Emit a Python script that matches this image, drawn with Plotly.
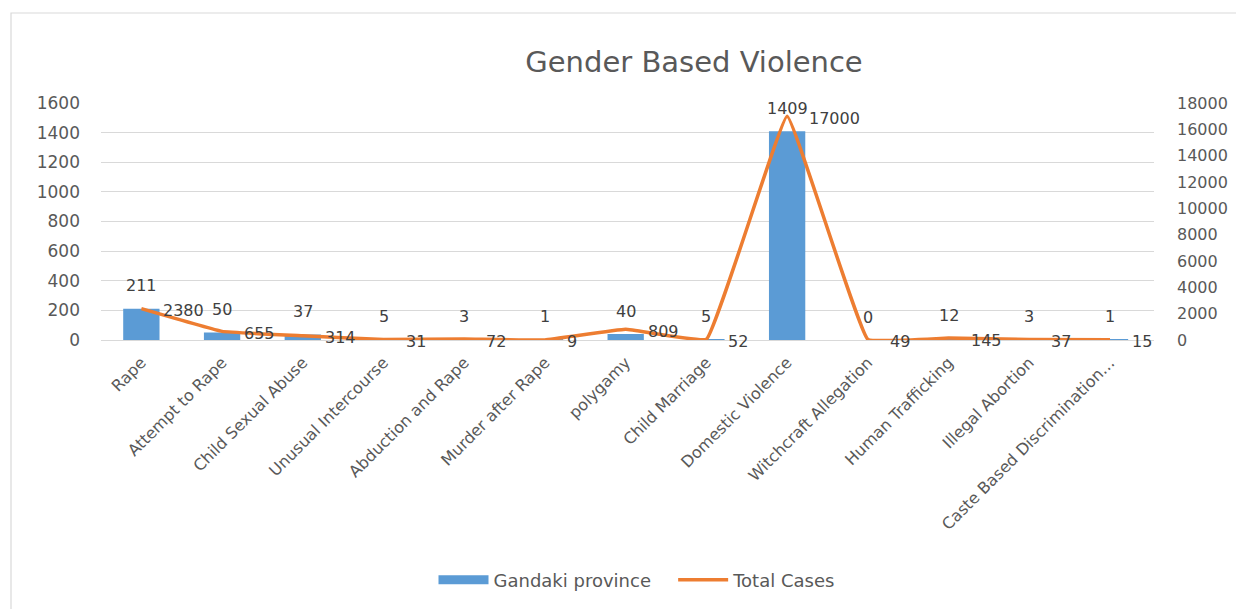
import plotly.graph_objects as go

categories = ["Rape", "Attempt to Rape", "Child Sexual Abuse", "Unusual Intercourse",
              "Abduction and Rape", "Murder after Rape", "polygamy", "Child Marriage",
              "Domestic Violence", "Witchcraft Allegation", "Human Trafficking",
              "Illegal Abortion", "Caste Based Discrimination…"]
gandaki = [211, 50, 37, 5, 3, 1, 40, 5, 1409, 0, 12, 3, 1]
total_cases = [2380, 655, 314, 31, 72, 9, 809, 52, 17000, 49, 145, 37, 15]
left_ticks = [0, 200, 400, 600, 800, 1000, 1200, 1400, 1600]
right_ticks = [0, 2000, 4000, 6000, 8000, 10000, 12000, 14000, 16000, 18000]

FONT = "DejaVu Sans"
GREY = "#595959"
LABEL = "#404040"
BLUE = "#5B9BD5"
ORANGE = "#ED7D31"

OFF = 8  # page body margin
W, H = 1244 - OFF, 609 - OFF
PL, PR, PT, PB = 101 - OFF, 1154 - OFF, 103 - OFF, 340 - OFF
L, R, T, B = PL, W - PR, PT, H - PB
pw = PR - PL
ph = PB - PT


def px_x(x):
    return (x - OFF - PL) / pw


def px_y(y):
    return (PB - (y - OFF)) / ph


fig = go.Figure()
fig.add_trace(go.Bar(x=categories, y=gandaki, name="Gandaki province",
                     marker=dict(color=BLUE, line=dict(width=0)), width=0.45,
                     yaxis="y", showlegend=False))
fig.add_trace(go.Scatter(x=categories, y=total_cases, name="Total Cases",
                         mode="lines", line=dict(color=ORANGE, width=3.5,
                                                 shape="spline", smoothing=0.22),
                         yaxis="y2", showlegend=False))
# legend entries
fig.add_trace(go.Scatter(x=[None], y=[None], name="Gandaki province\u00a0\u00a0\u00a0",
                         mode="lines", line=dict(color=BLUE, width=9), yaxis="y"))
fig.add_trace(go.Scatter(x=[None], y=[None], name="Total Cases", mode="lines",
                         line=dict(color=ORANGE, width=3.5), yaxis="y2"))

annotations = []
for c, v in zip(categories, gandaki):
    annotations.append(dict(x=c, y=v, xref="x", yref="y", text=str(v),
                            showarrow=False, yanchor="middle", yshift=23,
                            font=dict(family=FONT, size=16, color=LABEL)))
for c, v in zip(categories, total_cases):
    annotations.append(dict(x=c, y=v, xref="x", yref="y2", text=str(v),
                            showarrow=False, xanchor="left", yanchor="middle",
                            xshift=20, yshift=-2,
                            font=dict(family=FONT, size=16, color=LABEL)))

shapes = [dict(type="rect", xref="paper", yref="paper",
               x0=px_x(11), x1=px_x(1260), y0=px_y(630), y1=px_y(13),
               line=dict(color="#d9d9d9", width=1.2), fillcolor="rgba(0,0,0,0)",
               layer="below")]

fig.update_layout(
    width=W, height=H,
    margin=dict(l=L, r=R, t=T, b=B, autoexpand=False),
    paper_bgcolor="white", plot_bgcolor="white",
    font=dict(family=FONT, color=GREY, size=16),
    title=dict(text="Gender Based Violence", x=(694 - OFF) / W, xanchor="center",
               y=1 - (62 - OFF) / H, yanchor="middle", yref="container",
               font=dict(family=FONT, size=29, color=GREY)),
    xaxis=dict(tickangle=-45, tickfont=dict(family=FONT, size=16, color=GREY),
               showgrid=False, showline=True, linecolor="#d9d9d9", linewidth=1,
               ticks="", ticklabelstandoff=6),
    yaxis=dict(range=[0, 1600], tickvals=left_ticks, showgrid=True,
               gridcolor="#d9d9d9", gridwidth=1, zeroline=False, showline=False,
               tickfont=dict(family=FONT, size=17, color=GREY),
               ticklabelstandoff=20),
    yaxis2=dict(range=[0, 18000], tickvals=right_ticks,
                ticktext=[str(t) for t in right_ticks], overlaying="y",
                side="right", showgrid=False, zeroline=False, showline=False,
                tickfont=dict(family=FONT, size=16, color=GREY),
                ticklabelstandoff=22),
    legend=dict(orientation="h", x=px_x(637), xanchor="center",
                y=px_y(580), yanchor="middle",
                font=dict(family=FONT, size=18, color=GREY),
                itemwidth=50, traceorder="normal"),
    annotations=annotations,
    shapes=shapes,
)

fig.write_html("out.html")
